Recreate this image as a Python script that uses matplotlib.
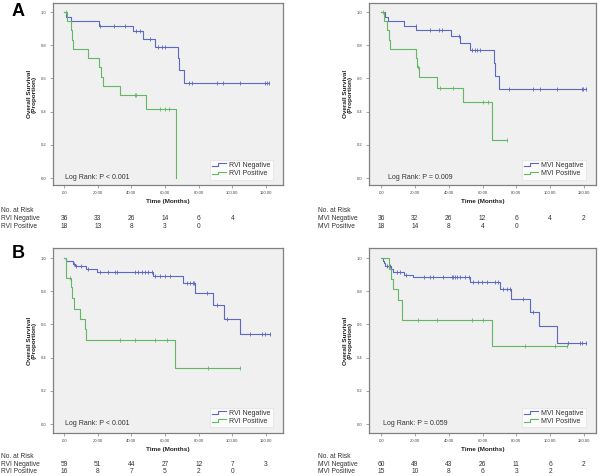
import numpy as np
import matplotlib.pyplot as plt
from matplotlib.lines import Line2D
from matplotlib.legend_handler import HandlerBase
from matplotlib.transforms import blended_transform_factory

plt.rcParams['font.family'] = ['Liberation Sans', 'DejaVu Sans']

W, H = 601, 476

# ---- data ----
# panel A left : RVI
a1_neg_t = [0, 1, 4, 21, 41, 47, 54, 68, 68.5, 71]
a1_neg_s = [1.0, 0.972, 0.944, 0.917, 0.884, 0.84, 0.792, 0.72, 0.65, 0.575]
a1_neg_c = [21.5, 29.5, 36, 43, 45, 51, 56, 58, 60, 74.5, 76, 90.8, 94.4, 104.7, 119.2, 120.6, 121.8]
a1_neg_end = 121.8
a1_pos_t = [0, 2, 4, 4.7, 5.5, 14, 21, 22, 23.4, 33.3, 48.7, 66.5]
a1_pos_s = [1.0, 0.944, 0.889, 0.833, 0.778, 0.722, 0.667, 0.611, 0.556, 0.5, 0.417, 0.0]
a1_pos_c = [1, 42, 43, 57, 60, 62.6]
a1_pos_end = 66.5

# panel A right : MVI
a2_neg_t = [0, 2.4, 4.3, 13.4, 20.7, 41.5, 46.7, 52.6, 66.8, 67.4, 70]
a2_neg_s = [1.0, 0.972, 0.944, 0.917, 0.889, 0.855, 0.816, 0.77, 0.69, 0.615, 0.538]
a2_neg_c = [20.5, 29, 34, 36, 46.3, 53.6, 55.6, 56.6, 58.5, 75.9, 90, 94, 103.8, 118.6, 119.6, 121]
a2_neg_end = 121
a2_pos_t = [0, 1.5, 3.7, 4.5, 5.3, 20.7, 21.5, 22.7, 32.9, 48.7, 65.4]
a2_pos_s = [1.0, 0.944, 0.889, 0.833, 0.778, 0.722, 0.667, 0.606, 0.545, 0.455, 0.227]
a2_pos_c = [1, 22, 34.9, 42.8, 60.5, 63.4, 74.3]
a2_pos_end = 74.3

# panel B left : RVI
b1_neg_t = [0, 1, 5.4, 6.4, 12.9, 19.9, 53, 70.5, 77.9, 88.4, 95.2, 104.3]
b1_neg_s = [1.0, 0.983, 0.966, 0.95, 0.932, 0.915, 0.89, 0.85, 0.787, 0.716, 0.635, 0.542]
b1_neg_c = [5.8, 7.4, 10.3, 14.3, 21.3, 26.2, 30.2, 31.2, 42.1, 44.1, 46.1, 48.1, 50.1, 52.1,
            54, 57, 60, 63, 72.9, 74.9, 76.5, 77.3, 84.8, 90.8, 96.8, 110.7, 117.6, 119.6, 122.2]
b1_neg_end = 122.2
b1_pos_t = [0, 1.4, 4.4, 5, 5.8, 9.3, 12.3, 13.3, 66]
b1_pos_s = [1.0, 0.882, 0.824, 0.759, 0.695, 0.633, 0.57, 0.507, 0.338]
b1_pos_c = [3.4, 33.2, 42, 54, 61, 85.8, 104.3]
b1_pos_end = 104.3

# panel B right : MVI
b2_neg_t = [0, 1, 1.8, 2.4, 5.7, 6.9, 13.8, 19.1, 52.6, 70.3, 76.7, 88, 93.6, 103.8]
b2_neg_s = [1.0, 0.983, 0.967, 0.95, 0.933, 0.917, 0.9, 0.883, 0.855, 0.815, 0.753, 0.673, 0.59, 0.49]
b2_neg_c = [3.7, 5.3, 9.3, 11.2, 14.8, 25.4, 29, 31, 36.8, 41.8, 42.8, 43.7, 44.7, 46.7, 49.7, 52.2,
            54.6, 57.5, 59.5, 62.5, 67.4, 69.4, 72.3, 74.3, 76.3, 84.1, 90, 110.7, 117.6, 118.6, 121.2]
b2_neg_end = 121.2
b2_pos_t = [0, 4.9, 5.7, 6.9, 10.2, 12.2, 65.4]
b2_pos_s = [1.0, 0.933, 0.875, 0.813, 0.75, 0.625, 0.469]
b2_pos_c = [22, 32.9, 53.6, 60.5, 85, 102.8, 109.7]
b2_pos_end = 109.7

risk_times = [0, 20, 40, 60, 80, 100, 120]
a1_risk_neg = [36, 33, 26, 14, 6, 4]
a1_risk_pos = [18, 13, 8, 3, 0]
a2_risk_neg = [36, 32, 26, 12, 6, 4, 2]
a2_risk_pos = [18, 14, 8, 4, 0]
b1_risk_neg = [59, 51, 44, 27, 12, 7, 3]
b1_risk_pos = [16, 8, 7, 5, 2, 0]
b2_risk_neg = [60, 49, 43, 26, 11, 6, 2]
b2_risk_pos = [15, 10, 8, 6, 3, 2]

x_ticks = [0, 20, 40, 60, 80, 100, 120]
x_ticklabels = ['.00', '20.00', '40.00', '60.00', '80.00', '100.00', '120.00']
y_ticks = [0.0, 0.2, 0.4, 0.6, 0.8, 1.0]

BLUE = '#5d68c0'
GREEN = '#63b963'
GRAY = '#808080'
TXT = '#222222'


class StepHandler(HandlerBase):
    def create_artists(self, legend, orig_handle, xdescent, ydescent, width, height, fontsize, trans):
        x = np.array([0, 0.45, 0.45, 1.0]) * width - xdescent
        y = np.array([0.2, 0.2, 0.8, 0.8]) * height - ydescent
        ln = Line2D(x, y, color=orig_handle.get_color(), lw=0.8)
        ln.set_transform(trans)
        return [ln]


def make_axes(fig, left, right, top, bottom, x0px, x120px, y1px, y0px):
    ax = fig.add_axes([left / W, 1 - bottom / H, (right - left) / W, (bottom - top) / H])
    pxm = (x120px - x0px) / 120.0
    ax.set_xlim((left - x0px) / pxm, (right - x0px) / pxm)
    pyu = (y0px - y1px)
    ax.set_ylim(-(bottom - y0px) / pyu, 1 + (y1px - top) / pyu)
    return ax


def km(ax, t, s, cens, end, color):
    tt = list(t) + [end]
    ss = list(s) + [s[-1]]
    ax.step(tt, ss, where='post', color=color, lw=0.8)
    t_arr = np.array(t)
    cy = [s[np.searchsorted(t_arr, c, side='right') - 1] for c in cens]
    ax.plot(cens, cy, ls='none', marker='|', ms=2.5, mew=0.6, color=color)


def panel(ax, neg, pos, grp, ptxt, ptx):
    ax.set_facecolor('#f0f0f0')
    for sp in ax.spines.values():
        sp.set_color(GRAY)
        sp.set_linewidth(0.9)
    km(ax, *neg, BLUE)
    km(ax, *pos, GREEN)
    ax.set_xticks(x_ticks)
    ax.set_xticklabels(x_ticklabels)
    ax.set_yticks(y_ticks)
    ax.set_yticklabels(['%.1f' % v for v in y_ticks])
    ax.tick_params(labelsize=3, length=2.5, width=0.5, color=GRAY, pad=2, labelcolor='#444444')
    ax.set_xlabel('Time (Months)', fontsize=4.6, fontweight='bold', labelpad=3, color=TXT)
    ax.set_ylabel('Overall Survival\n(Proportion)', fontsize=4.6, fontweight='bold',
                  labelpad=3, color=TXT, linespacing=1.0)
    ax.text(ptx, 0.005, ptxt, fontsize=5, color='#333333', va='center', ha='left')
    handles = [Line2D([], [], color=BLUE), Line2D([], [], color=GREEN)]
    leg = ax.legend(handles, [grp + ' Negative', grp + ' Positive'], loc='lower right',
                    bbox_to_anchor=(0.955, 0.03), fontsize=5, frameon=True, fancybox=False,
                    handler_map={Line2D: StepHandler()}, handlelength=2.0, handletextpad=0.5,
                    borderpad=0.3, labelspacing=0.2, borderaxespad=0)
    leg.get_frame().set_edgecolor('#dddddd')
    leg.get_frame().set_linewidth(0.5)
    for tx in leg.get_texts():
        tx.set_color('#333333')


def risk_table(fig, ax, grp, neg, pos, xpx, ytop, step):
    fs = 4.8
    rows = [ytop, ytop + step, ytop + 2 * step]
    fig.text(xpx / W, 1 - rows[0] / H, 'No. at Risk', fontsize=fs, color='#333333', va='center')
    fig.text(xpx / W, 1 - rows[1] / H, grp + ' Negative', fontsize=fs, color='#333333', va='center')
    fig.text(xpx / W, 1 - rows[2] / H, grp + ' Positive', fontsize=fs, color='#333333', va='center')
    tr = blended_transform_factory(ax.transData, fig.transFigure)
    for tm, v in zip(risk_times, neg):
        ax.text(tm, 1 - rows[1] / H, str(v), transform=tr, fontsize=fs, color='#333333',
                ha='center', va='center', clip_on=False)
    for tm, v in zip(risk_times, pos):
        ax.text(tm, 1 - rows[2] / H, str(v), transform=tr, fontsize=fs, color='#333333',
                ha='center', va='center', clip_on=False)


fig = plt.figure(figsize=(W / 100, H / 100), dpi=100)
fig.patch.set_facecolor('white')

ax1 = make_axes(fig, 53, 283, 3, 185, 64, 266, 12, 178)
panel(ax1, (a1_neg_t, a1_neg_s, a1_neg_c, a1_neg_end), (a1_pos_t, a1_pos_s, a1_pos_c, a1_pos_end),
      'RVI', 'Log Rank: P < 0.001', 0.5)
risk_table(fig, ax1, 'RVI', a1_risk_neg, a1_risk_pos, 1, 210, 8.3)

ax2 = make_axes(fig, 369, 596, 3, 185, 381, 584, 12, 178)
panel(ax2, (a2_neg_t, a2_neg_s, a2_neg_c, a2_neg_end), (a2_pos_t, a2_pos_s, a2_pos_c, a2_pos_end),
      'MVI', 'Log Rank: P = 0.009', 4)
risk_table(fig, ax2, 'MVI', a2_risk_neg, a2_risk_pos, 318, 210, 8.3)

ax3 = make_axes(fig, 53, 283, 248, 433, 64, 266, 258, 424)
panel(ax3, (b1_neg_t, b1_neg_s, b1_neg_c, b1_neg_end), (b1_pos_t, b1_pos_s, b1_pos_c, b1_pos_end),
      'RVI', 'Log Rank: P < 0.001', 0.5)
risk_table(fig, ax3, 'RVI', b1_risk_neg, b1_risk_pos, 1, 457, 7.4)

ax4 = make_axes(fig, 369, 596, 248, 433, 381, 584, 258, 424)
panel(ax4, (b2_neg_t, b2_neg_s, b2_neg_c, b2_neg_end), (b2_pos_t, b2_pos_s, b2_pos_c, b2_pos_end),
      'MVI', 'Log Rank: P = 0.059', 1)
risk_table(fig, ax4, 'MVI', b2_risk_neg, b2_risk_pos, 318, 457, 7.4)

fig.text(12 / W, 1 - 12 / H, 'A', fontsize=13, fontweight='bold', va='center', ha='left')
fig.text(12 / W, 1 - 253 / H, 'B', fontsize=13, fontweight='bold', va='center', ha='left')

fig.savefig('out.png', dpi=100)
